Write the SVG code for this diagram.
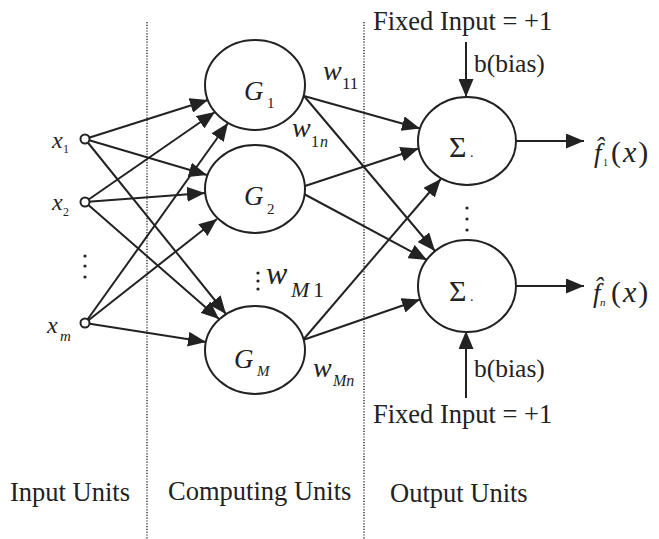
<svg xmlns="http://www.w3.org/2000/svg" width="659" height="539" viewBox="0 0 659 539">
<style>
text{font-family:'Liberation Serif','Tinos','Times New Roman','DejaVu Serif',serif;fill:#222}
.i{font-style:italic}
.ln{stroke:#222;stroke-width:2;fill:none}
.nd{stroke:#222;stroke-width:2;fill:#fff}
.dot{stroke:#444;stroke-width:1.6;stroke-dasharray:1.2 1.6;fill:none}
</style>
<defs>
<marker id="ah" markerUnits="userSpaceOnUse" markerWidth="18" markerHeight="15" refX="18" refY="7.5" orient="auto">
<path d="M0,0 L18,7.5 L0,15 z" fill="#222"/>
</marker>
</defs>
<rect width="659" height="539" fill="#fff"/>
<g id="dividers">
<line class="dot" x1="147" y1="22" x2="147" y2="539"/>
<line class="dot" x1="364" y1="22" x2="364" y2="539"/>
</g>
<g id="connectors" class="ln">
<line x1="85" y1="139" x2="208" y2="100" marker-end="url(#ah)"/>
<line x1="85" y1="202" x2="215" y2="112" marker-end="url(#ah)"/>
<line x1="85" y1="323" x2="228" y2="123" marker-end="url(#ah)"/>
<line x1="85" y1="139" x2="207" y2="175" marker-end="url(#ah)"/>
<line x1="85" y1="202" x2="205" y2="193" marker-end="url(#ah)"/>
<line x1="85" y1="323" x2="217" y2="219" marker-end="url(#ah)"/>
<line x1="85" y1="139" x2="226" y2="314" marker-end="url(#ah)"/>
<line x1="85" y1="202" x2="219" y2="319" marker-end="url(#ah)"/>
<line x1="85" y1="323" x2="206" y2="342" marker-end="url(#ah)"/>
<line x1="304" y1="96" x2="420" y2="128.5" marker-end="url(#ah)"/>
<line x1="304" y1="96" x2="435" y2="251" marker-end="url(#ah)"/>
<line x1="305" y1="186" x2="418.6" y2="148.5" marker-end="url(#ah)"/>
<line x1="304" y1="194" x2="427" y2="260" marker-end="url(#ah)"/>
<line x1="303" y1="340" x2="440.8" y2="179" marker-end="url(#ah)"/>
<line x1="303" y1="340" x2="420" y2="299.5" marker-end="url(#ah)"/>
<line x1="516" y1="141" x2="584" y2="141" marker-end="url(#ah)"/>
<line x1="516" y1="286" x2="584" y2="286" marker-end="url(#ah)"/>
<line x1="466" y1="42" x2="466" y2="97" marker-end="url(#ah)"/>
<line x1="466" y1="398" x2="466" y2="331" marker-end="url(#ah)"/>
</g>
<g id="in1"><circle class="nd" cx="85" cy="139" r="4.5"/>
<text class="i" x="52" y="148" font-size="24">x</text><text x="63" y="153" font-size="12">1</text></g>
<g id="in2"><circle class="nd" cx="85" cy="202" r="4.5"/>
<text class="i" x="52" y="210" font-size="24">x</text><text x="63" y="216" font-size="12">2</text></g>
<g id="inm"><circle class="nd" cx="85" cy="323" r="4.5"/>
<text class="i" x="47" y="333" font-size="24">x</text><text class="i" x="60" y="341" font-size="15">m</text></g>
<g id="indots" fill="#222"><circle cx="85" cy="256" r="1.6"/><circle cx="85" cy="266" r="1.6"/><circle cx="85" cy="277" r="1.6"/></g>
<g id="g1"><ellipse class="nd" cx="255" cy="85" rx="50" ry="45"/>
<text class="i" x="244" y="100" font-size="27">G</text><text x="267" y="108" font-size="15">1</text></g>
<g id="g2"><ellipse class="nd" cx="255" cy="189" rx="50" ry="44"/>
<text class="i" x="244" y="205" font-size="27">G</text><text x="267" y="214" font-size="15">2</text></g>
<g id="gm"><ellipse class="nd" cx="255" cy="350" rx="50" ry="44"/>
<text class="i" x="234" y="368" font-size="27">G</text><text class="i" x="257" y="376" font-size="15">M</text></g>
<g id="s1"><ellipse class="nd" cx="467" cy="141" rx="49" ry="44"/>
<text x="449" y="157" font-size="30">Σ</text><text x="470" y="157" font-size="14">.</text></g>
<g id="s2"><ellipse class="nd" cx="467" cy="286" rx="49" ry="46"/>
<text x="449" y="301" font-size="30">Σ</text><text x="470" y="301" font-size="14">.</text></g>
<g id="sdots" fill="#222"><circle cx="467" cy="208" r="1.6"/><circle cx="467" cy="219" r="1.6"/><circle cx="467" cy="230" r="1.6"/></g>
<g id="weights">
<text class="i" x="323" y="80" font-size="28">w</text><text x="342" y="89" font-size="17">11</text>
<text class="i" x="292" y="137" font-size="28">w</text><text x="311" y="147" font-size="16">1</text><text class="i" x="320" y="147" font-size="16">n</text>
<g fill="#222"><circle cx="258" cy="273" r="1.6"/><circle cx="258" cy="281" r="1.6"/><circle cx="258" cy="289" r="1.6"/></g>
<text class="i" x="266" y="284" font-size="32">w</text><text class="i" x="291" y="297" font-size="22">M</text><text x="313" y="297" font-size="22">1</text>
<text class="i" x="313" y="377" font-size="28">w</text><text class="i" x="333" y="386" font-size="16">Mn</text>
</g>
<g id="out1">
<text class="i" x="594" y="162" font-size="27">f̂</text><text x="603" y="166" font-size="10">1</text>
<text x="611" y="162" font-size="30" letter-spacing="2">(<tspan font-style="italic">x</tspan>)</text>
</g>
<g id="out2">
<text class="i" x="593" y="302" font-size="27">f̂</text><text class="i" x="600" y="306" font-size="11">n</text>
<text x="611" y="302" font-size="30" letter-spacing="2">(<tspan font-style="italic">x</tspan>)</text>
</g>
<g id="bias1">
<text x="373" y="30" font-size="26.5">Fixed Input = +1</text>
<text x="474" y="72" font-size="25.5">b(bias)</text>
</g>
<g id="bias2">
<text x="373" y="423" font-size="26.5">Fixed Input = +1</text>
<text x="474" y="377" font-size="25.5">b(bias)</text>
</g>
<g id="sections">
<text x="10" y="501" font-size="26.5">Input Units</text>
<text x="168" y="500" font-size="26.5">Computing Units</text>
<text x="390" y="502" font-size="26.5">Output Units</text>
</g>
</svg>
